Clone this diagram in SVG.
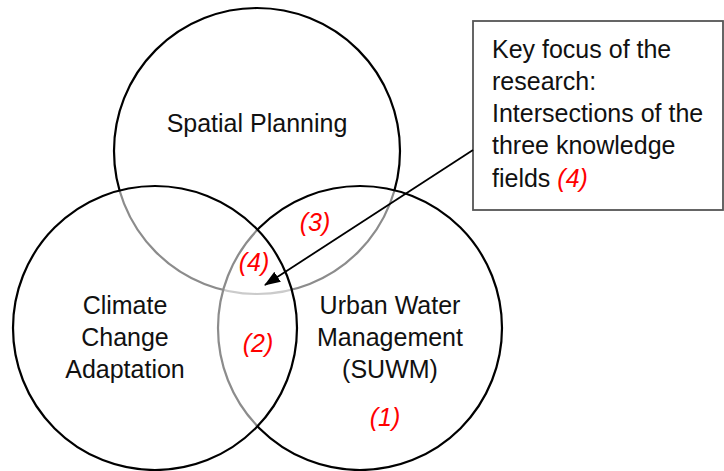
<svg xmlns="http://www.w3.org/2000/svg" width="724" height="471" viewBox="0 0 724 471">
<defs>
<marker id="ah" markerWidth="16" markerHeight="12" refX="15" refY="6" orient="auto" markerUnits="userSpaceOnUse" viewBox="0 0 16 12">
<path d="M0,0 L16,6 L0,12 Z" fill="#000"/>
</marker>
</defs>
<style>
.c{fill:#fff;fill-opacity:0.55;stroke:#000;stroke-width:2.2}
.t{font-family:"Liberation Sans",Arial,sans-serif;font-size:25px;fill:#111}
.m{text-anchor:middle}
.r{font-family:"Liberation Sans",Arial,sans-serif;font-size:25px;font-style:italic;fill:#f00;text-anchor:middle}
</style>
<rect width="724" height="471" fill="#fff"/>
<g id="spatial-planning">
<circle class="c" cx="257" cy="151" r="143"/>
</g>
<g id="suwm">
<circle class="c" cx="360" cy="328" r="142"/>
</g>
<g id="climate-change-adaptation">
<circle class="c" cx="155" cy="328" r="142"/>
</g>
<g id="labels">
<text class="t m" x="257" y="132" font-size="26">Spatial Planning</text>
<text class="t m" x="125" y="314">Climate</text>
<text class="t m" x="125" y="346">Change</text>
<text class="t m" x="125" y="378">Adaptation</text>
<text class="t m" x="390" y="314">Urban Water</text>
<text class="t m" x="390" y="346">Management</text>
<text class="t m" x="390" y="378">(SUWM)</text>
<text class="r" x="315" y="231">(3)</text>
<text class="r" x="254" y="271">(4)</text>
<text class="r" x="258" y="352">(2)</text>
<text class="r" x="385" y="426">(1)</text>
</g>
<g id="key-focus-box">
<rect x="473" y="21" width="250" height="189" fill="#fff" stroke="#555" stroke-width="1.8"/>
<text class="t" x="492" y="58">Key focus of the</text>
<text class="t" x="492" y="90">research:</text>
<text class="t" x="492" y="122">Intersections of the</text>
<text class="t" x="492" y="154">three knowledge</text>
<text class="t" x="492" y="187">fields <tspan fill="#f00" font-style="italic">(4)</tspan></text>
</g>
<g id="connectors">
<line x1="473" y1="150" x2="265" y2="285" stroke="#000" stroke-width="1.8" marker-end="url(#ah)"/>
</g>
</svg>
